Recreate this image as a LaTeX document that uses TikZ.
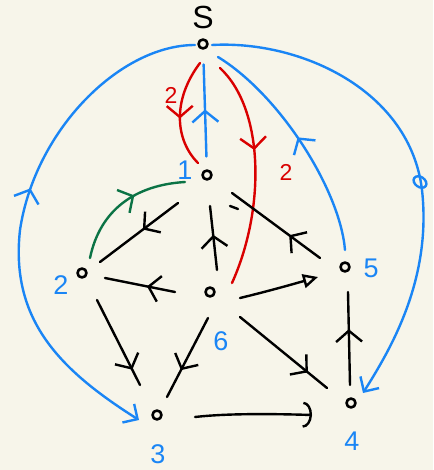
\documentclass[tikz,border=0pt]{standalone}
\usepackage{fontspec}
\setmainfont{Liberation Sans}
\usetikzlibrary{arrows.meta,decorations.markings}
\definecolor{bg}{HTML}{F7F5EA}
\definecolor{hblue}{HTML}{1A85F5}
\definecolor{hred}{HTML}{D90000}
\definecolor{hgreen}{HTML}{0B7345}
\begin{document}
\begin{tikzpicture}[x=1pt,y=-1pt,line cap=round,line join=round,
  vtx/.style={circle,draw,line width=2.6pt,inner sep=0pt,minimum size=9pt,outer sep=0pt},
  edge/.style={line width=2.4pt},
  midarr/.style={postaction={decorate},decoration={markings,mark=at position #1 with {\arrow{Straight Barb[length=11pt,width=26pt,line width=2.4pt]}}}},
  midrev/.style={postaction={decorate},decoration={markings,mark=at position #1 with {\arrowreversed{Straight Barb[length=11pt,width=26pt,line width=2.4pt]}}}},
  lbl/.style={text=hblue,font=\fontsize{27}{27}\selectfont,inner sep=0pt},
  rlbl/.style={text=hred,font=\fontsize{23}{23}\selectfont,inner sep=0pt}]
\fill[bg] (0,0) rectangle (433,470);
\useasboundingbox (0,0) rectangle (433,470);
% vertices
\node[vtx] (S) at (203,44) {};
\node[vtx] (n1) at (207,175) {};
\node[vtx] (n2) at (82,273) {};
\node[vtx] (n6) at (210,292) {};
\node[vtx] (n5) at (345,267) {};
\node[vtx] (n3) at (157,415) {};
\node[vtx] (n4) at (351,403) {};
% labels
\node[inner sep=0pt,font=\fontsize{32}{32}\selectfont] (lS) at (203,17) {S};
\node[lbl] (l1) at (185,170) {1};
\node[lbl] (l2) at (61,285) {2};
\node[lbl] (l6) at (221,341) {6};
\node[lbl] (l5) at (371,268) {5};
\node[lbl] (l3) at (158,454) {3};
\node[lbl] (l4) at (352,441) {4};
% blue edges
\draw[edge,hblue,midarr=0.5,shorten <=14pt,shorten >=16pt] (n1) -- (S);
\draw[edge,hblue,midarr=0.52] (n5) ++(0,-17) coordinate (a5) .. controls (340,190) and (280,95) .. (218,57) coordinate (aS);
\draw[edge,hblue,-{Straight Barb[length=11pt,width=22pt]}] (212,45) coordinate (bS) .. controls (300,40) and (410,90) .. (422,190) .. controls (432,280) and (390,350) .. (363,393) coordinate (b4);
\draw[line width=2.4pt,hblue,rotate around={-35:(420,182)}] (420,182) ellipse [x radius=7pt,y radius=5pt];
\draw[edge,hblue,midrev=0.45,-{Straight Barb[length=11pt,width=22pt]}] (195,45) coordinate (cS) .. controls (120,45) and (35,130) .. (20,230) .. controls (10,320) and (60,370) .. (139,420) coordinate (c3);
% red edges
\draw[edge,hred,midarr=0.55] (200,63) coordinate (dS) .. controls (172,100) and (175,140) .. (198,163) coordinate (d1);
\draw[edge,hred,midarr=0.4] (220,68) coordinate (eS) .. controls (265,110) and (265,210) .. (232,283) coordinate (e6);
\node[rlbl] (r1) at (171,95) {2};
\node[rlbl] (r2) at (286,172) {2};
% green edge
\draw[edge,hgreen,midarr=0.6] (90,258) coordinate (g2) .. controls (100,210) and (135,185) .. (185,182) coordinate (g1);
% black edges
\draw[edge,midarr=0.45] (178,203) coordinate (k1) -- (100,262) coordinate (k2);
\draw[edge,midarr=0.4] (175,292) coordinate (m6) -- (105,278) coordinate (m2);
\draw[edge,midarr=0.82] (97,300) coordinate (p2) -- (140,385) coordinate (p3);
\draw[edge,midarr=0.66] (208,318) coordinate (q6) -- (167,397) coordinate (q3);
\draw[edge,midarr=0.78] (240,317) coordinate (s6) -- (327,388) coordinate (s4);
\draw[edge,-{Triangle[open,length=15pt,width=14pt,line width=2.4pt]}] (240,298) coordinate (t6) .. controls (265,292) and (290,285) .. (318,277) coordinate (t5);
\draw[edge,midarr=0.55] (217,270) coordinate (u6) -- (210,206) coordinate (u1);
\draw[edge,midarr=0.35] (320,258) coordinate (v5) -- (232,193) coordinate (v1);
\draw[edge,midarr=0.6] (350,385) coordinate (w4) -- (348,292) coordinate (w5);
\draw[edge,-{Arc Barb[length=9pt,width=26pt]}] (195,417) coordinate (x3) .. controls (230,413) and (280,414) .. (312,415) coordinate (x4);
\draw[line width=2.4pt] (230,206) -- (238,209);
\end{tikzpicture}
\end{document}
